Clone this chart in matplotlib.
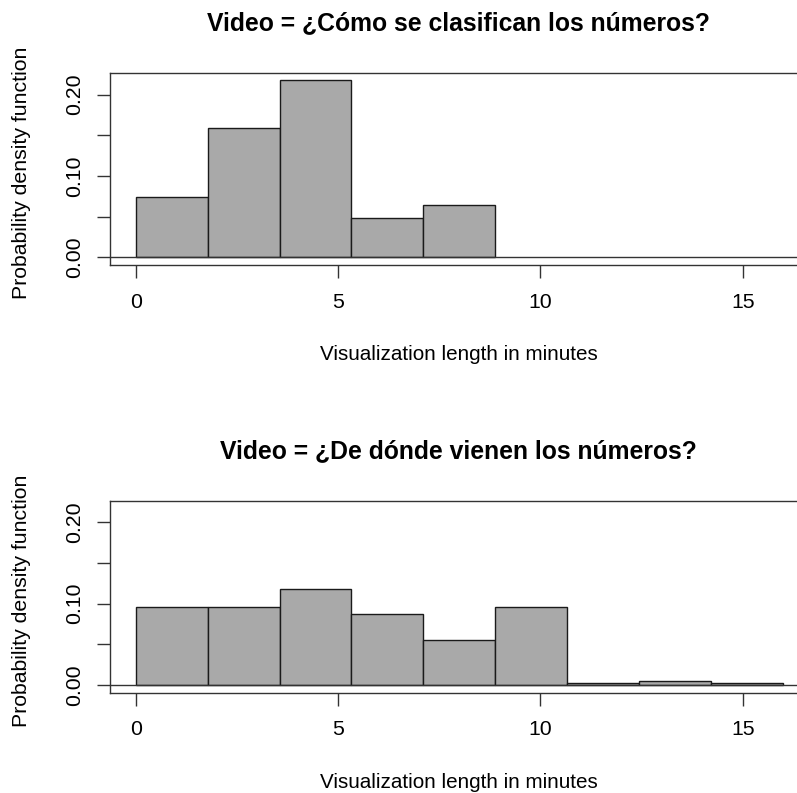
import matplotlib
matplotlib.use("Agg")
import matplotlib.pyplot as plt
import numpy as np

W, H = 797, 793
DPI = 100

# Data
titles = ["Video = ¿Cómo se clasifican los números?",
          "Video = ¿De dónde vienen los números?"]
edges_top = [0.0, 1.78, 3.56, 5.33, 7.10, 8.88]
dens_top = [0.0741, 0.1588, 0.2177, 0.0483, 0.0643]
edges_bot = [0.0, 1.78, 3.56, 5.33, 7.10, 8.88, 10.66, 12.43, 14.21, 15.99]
dens_bot = [0.0957, 0.0957, 0.1185, 0.0875, 0.0560, 0.0957, 0.0025, 0.0050, 0.0025]
xticks = [0, 5, 10, 15]
yticks = [0.00, 0.05, 0.10, 0.15, 0.20]
ytick_labels = ["0.00", "", "0.10", "", "0.20"]
xlabel = "Visualization length in minutes"
ylabel = "Probability density function"

plt.rcParams['font.family'] = ['Liberation Sans', 'DejaVu Sans']

fig = plt.figure(figsize=(W / DPI, H / DPI), dpi=DPI)

def fx(px):
    return px / W

def fy(py):
    return 1 - py / H

XMIN, XMAX = -0.635, 16.62
PPU = 40.47
left_px = 110.0
right_px = left_px + (XMAX - XMIN) * PPU
panels = [
    (72.7, 264.8, edges_top, dens_top, titles[0]),
    (500.7, 692.5, edges_bot, dens_bot, titles[1]),
]

LINE = '#333333'
for top_px, bot_px, edges, dens, title in panels:
    ax = fig.add_axes([fx(left_px), fy(bot_px), fx(right_px - left_px), (bot_px - top_px) / H])
    ax.set_xlim(XMIN, XMAX)
    ax.set_ylim(-0.0091, 0.2268)
    e = np.array(edges)
    ax.bar(e[:-1], dens, width=np.diff(e), align='edge', color='#A9A9A9',
           edgecolor='#1a1a1a', linewidth=1.0, zorder=2)
    ax.axhline(0, color=LINE, linewidth=1.0, zorder=3)
    for s in ax.spines.values():
        s.set_color(LINE)
        s.set_linewidth(1.0)
    ax.set_xticks(xticks)
    ax.set_xticklabels([str(t) for t in xticks])
    ax.set_yticks(yticks)
    ax.set_yticklabels(ytick_labels, rotation=90, va='center')
    ax.tick_params(axis='both', which='both', length=9.6, width=1.0, color=LINE,
                   labelsize=15.3, labelcolor='black', direction='out')
    ax.tick_params(axis='x', pad=10.5)
    ax.tick_params(axis='y', pad=9.0)
    cx = (left_px + 808) / 2 - 0.5
    fig.text(fx(458), fy(top_px - 50), title, ha='center', va='center',
             fontsize=17.8, fontweight='bold')
    fig.text(fx(458.5), fy(bot_px + 90), xlabel, ha='center', va='center', fontsize=14.9)
    fig.text(fx(21.5), fy((top_px + bot_px) / 2 + 4), ylabel, ha='center', va='center',
             rotation=90, fontsize=15.3)

fig.savefig("out.png", dpi=DPI)
